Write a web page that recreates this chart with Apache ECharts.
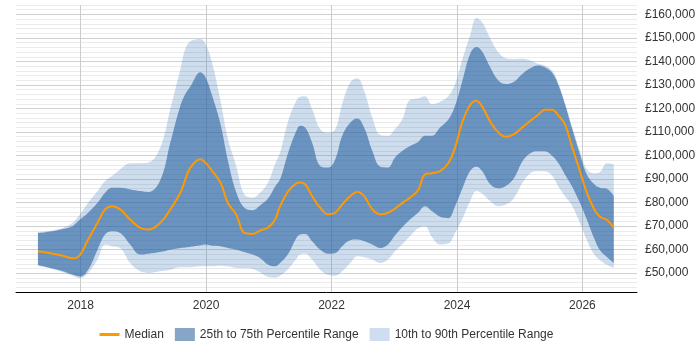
<!DOCTYPE html>
<html>
<head>
<meta charset="utf-8">
<script src="https://cdn.jsdelivr.net/npm/echarts@6/dist/echarts.min.js"></script>
<style>
  html, body { margin: 0; padding: 0; background: #fff; }
  #chart { width: 700px; height: 350px; }
</style>
</head>
<body>
<div id="chart"></div>
<script>
// time points (decimal years)
const years = [2017.32, 2017.52, 2017.72, 2017.87, 2017.99, 2018.12, 2018.27, 2018.39, 2018.50, 2018.63,
  2018.79, 2018.95, 2019.08, 2019.27, 2019.43, 2019.59, 2019.67, 2019.75, 2019.91, 2019.99,
  2020.10, 2020.23, 2020.35, 2020.48, 2020.61, 2020.74, 2020.86, 2020.99, 2021.10, 2021.18,
  2021.31, 2021.44, 2021.50, 2021.58, 2021.69, 2021.82, 2021.95, 2022.06, 2022.17, 2022.30,
  2022.41, 2022.52, 2022.65, 2022.78, 2022.90, 2023.01, 2023.13, 2023.25, 2023.38, 2023.49,
  2023.60, 2023.73, 2023.86, 2023.97, 2024.08, 2024.21, 2024.31, 2024.40, 2024.53, 2024.66,
  2024.78, 2024.91, 2025.04, 2025.17, 2025.29, 2025.40, 2025.52, 2025.61, 2025.72, 2025.83,
  2025.96, 2026.07, 2026.19, 2026.28, 2026.39, 2026.50];

const p10 = [53000, 52000, 50400, 48900, 47900, 50100, 55800, 62200, 61500, 60700,
  54300, 50800, 50100, 50800, 51500, 52500, 52500, 52500, 52900, 52900,
  52900, 53200, 52900, 52200, 52100, 51800, 50400, 48400, 48100, 48900,
  51800, 56100, 57900, 58300, 55800, 51500, 49200, 48900, 50800, 54300,
  57200, 56800, 55800, 54300, 55800, 59300, 62300, 65700, 69100, 70000,
  65400, 62200, 62600, 67100, 72800, 80600, 84900, 83900, 80600, 78500,
  79200, 82000, 88200, 92500, 93300, 93300, 91300, 87100, 82800, 78900,
  71400, 64000, 57900, 55500, 53600, 52200];

const p25 = [53500, 52200, 50800, 49400, 48600, 51500, 60000, 66400, 67800, 67100,
  62200, 57900, 58300, 59000, 60000, 60700, 60900, 61200, 61900, 62200,
  61700, 61500, 60700, 60000, 59000, 57900, 56500, 53600, 52900, 54300,
  58300, 65000, 66400, 66700, 63600, 60000, 58300, 58600, 61500, 64000,
  64300, 63600, 62200, 60700, 62200, 66000, 69600, 72800, 75700, 78500,
  76400, 74000, 73400, 78500, 85600, 93400, 95200, 93400, 87800, 86100,
  87100, 90500, 97400, 101000, 101800, 101800, 99800, 97000, 92000, 87100,
  79900, 72800, 64600, 59700, 56900, 54300];

const median = [59300, 58500, 57400, 56300, 57800, 64300, 71400, 77100, 78500, 77100,
  72800, 69300, 68600, 71400, 77100, 84200, 89900, 94900, 98400, 97000,
  93400, 88500, 79700, 75000, 67100, 66700, 68100, 69400, 72800, 78500,
  84900, 88200, 88500, 87800, 82800, 77800, 75000, 75700, 79200, 82800,
  84500, 82800, 77100, 75000, 75700, 77400, 79900, 82100, 85300, 92000,
  92500, 93400, 96700, 103400, 113800, 121500, 123300, 120900, 114500, 109800,
  108000, 109100, 111900, 114800, 117200, 119500, 119500, 117200, 113400, 104100,
  93400, 84200, 77100, 74000, 72600, 69300];

const p75 = [67000, 67700, 68800, 70000, 72800, 75700, 79900, 84200, 86300, 86300,
  85600, 84900, 84500, 89500, 105500, 121200, 126200, 129400, 135400, 133300,
  125200, 113400, 97700, 84500, 77800, 76800, 78800, 81800, 86800, 89900,
  101300, 110500, 112700, 111900, 105600, 95600, 94900, 98400, 108400, 114100,
  115800, 111900, 102000, 95200, 94900, 99100, 102000, 104100, 105800, 108400,
  108400, 111900, 115200, 121200, 131200, 143200, 146100, 144200, 137500, 131900,
  130400, 131400, 134700, 137100, 138300, 137500, 135100, 130400, 121900, 111900,
  100600, 92000, 87800, 86300, 85900, 82800];

const p90 = [67500, 68000, 69300, 71400, 75000, 79900, 84900, 89200, 91300, 94100,
  96700, 96700, 97000, 103400, 119800, 136800, 145400, 148600, 149600, 147500,
  139000, 123300, 107000, 95600, 83500, 82100, 84200, 88700, 96400, 101300,
  114800, 123300, 125000, 125200, 119800, 111200, 109800, 111200, 121900, 131200,
  132900, 127600, 116200, 108700, 108400, 111200, 115500, 123700, 124300, 125200,
  121900, 122900, 125200, 130400, 140400, 151100, 158500, 156700, 149900, 143900,
  141400, 141000, 141100, 140400, 139000, 138300, 136100, 131200, 122600, 112700,
  102000, 94200, 92500, 93000, 96700, 96300];

const yearTicks = [2018, 2020, 2022, 2024, 2026];

const NAME_MED = 'Median';
const NAME_IQR = '25th to 75th Percentile Range';
const NAME_OUT = '10th to 90th Percentile Range';

// rows are [value, year] so the value column is the one that gets stacked
function rows(vals) {
  return years.map((y, i) => [vals[i], y]);
}
function diffRows(hi, lo) {
  return years.map((y, i) => [hi[i] - lo[i], y]);
}
function money(v) {
  return '£' + String(v).replace(/\B(?=(\d{3})+(?!\d))/g, ',');
}

const chart = echarts.init(document.getElementById('chart'));
const font = "'Liberation Sans', Arial, sans-serif";
const enc = { x: 1, y: 0 };

chart.setOption({
  animation: false,
  textStyle: { fontFamily: font },
  grid: { left: 16, right: 63, top: 5, bottom: 58 },
  legend: {
    left: 93,
    top: 323,
    itemWidth: 20,
    itemHeight: 13,
    itemGap: 11,
    textStyle: { fontSize: 12, color: '#333', fontFamily: font },
    data: [
      { name: NAME_MED, lineStyle: { width: 3 }, itemStyle: { opacity: 0 } },
      { name: NAME_IQR, icon: 'rect', itemStyle: { color: '#87a5c6' } },
      { name: NAME_OUT, icon: 'rect', itemStyle: { color: '#cfdeee' } }
    ]
  },
  xAxis: {
    type: 'value',
    min: 2016.97,
    max: 2026.87,
    axisLine: { show: true, lineStyle: { color: '#000', width: 1 } },
    axisTick: { show: false, customValues: yearTicks },
    axisLabel: {
      customValues: yearTicks,
      formatter: v => String(v),
      color: '#333',
      fontSize: 12,
      margin: 8
    },
    splitLine: { show: true, lineStyle: { color: '#cccccc', width: 1 } }
  },
  yAxis: {
    type: 'value',
    position: 'right',
    min: 42000,
    max: 164000,
    interval: 2000,
    axisLine: { show: false },
    axisTick: { show: false },
    axisLabel: {
      interval: 0,
      formatter: v => (v % 10000 === 0 ? money(v) : ''),
      color: '#333',
      fontSize: 12,
      margin: 8
    },
    splitLine: {
      show: true,
      lineStyle: { color: ['#ebebeb', '#ebebeb', '#ebebeb', '#ebebeb', '#d0d0d0'], width: 1 }
    }
  },
  series: [
    {
      name: 'p10', type: 'line', stack: 'outer', smooth: 0.4, symbol: 'none', encode: enc,
      lineStyle: { width: 0 }, data: rows(p10), silent: true
    },
    {
      name: NAME_OUT, type: 'line', stack: 'outer', smooth: 0.4, symbol: 'none', encode: enc,
      color: '#cfdeee',
      lineStyle: { width: 0 },
      areaStyle: { color: 'rgba(65,125,185,0.26)', opacity: 1 },
      data: diffRows(p90, p10)
    },
    {
      name: 'p25', type: 'line', stack: 'inner', smooth: 0.4, symbol: 'none', encode: enc,
      lineStyle: { width: 0 }, data: rows(p25), silent: true
    },
    {
      name: NAME_IQR, type: 'line', stack: 'inner', smooth: 0.4, symbol: 'none', encode: enc,
      color: '#87a5c6',
      lineStyle: { width: 0 },
      areaStyle: { color: 'rgba(42,98,160,0.6)', opacity: 1 },
      data: diffRows(p75, p25)
    },
    {
      name: NAME_MED, type: 'line', smooth: 0.4, symbol: 'none', encode: enc,
      color: '#ff9900',
      lineStyle: { color: '#ff9900', width: 2 },
      data: rows(median),
      z: 5
    }
  ]
});
</script>
</body>
</html>
